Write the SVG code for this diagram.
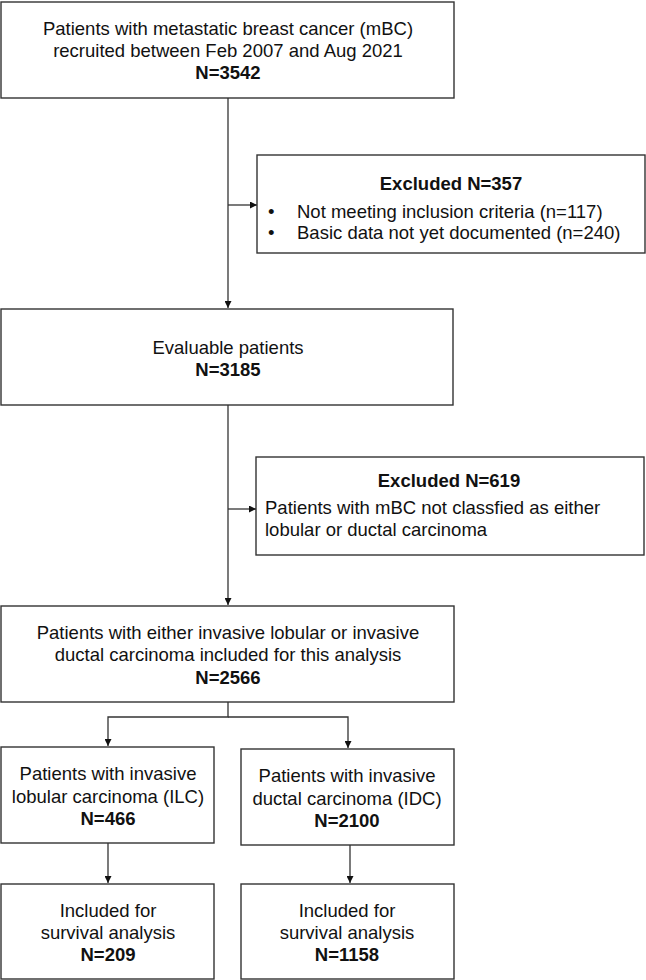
<svg xmlns="http://www.w3.org/2000/svg" width="646" height="980" viewBox="0 0 646 980">
<style>
.box{fill:#fff;stroke:#333;stroke-width:1.4}
.t{font-family:"Liberation Sans",Arial,sans-serif;font-size:18.5px;fill:#111}
.c{text-anchor:middle}
.b{font-weight:bold}
.ln{fill:none;stroke:#333;stroke-width:1.3}
</style>
<defs>
<marker id="ah" viewBox="0 0 10 10" refX="10" refY="5" markerWidth="7" markerHeight="7" markerUnits="userSpaceOnUse" orient="auto">
<path d="M0,0 L10,5 L0,10 Z" fill="#111"/>
</marker>
</defs>
<rect width="646" height="980" fill="#fff"/>
<g id="connectors">
<line class="ln" x1="228" y1="98" x2="228" y2="308" marker-end="url(#ah)"/>
<line class="ln" x1="228" y1="205" x2="257" y2="205" marker-end="url(#ah)"/>
<line class="ln" x1="228" y1="405" x2="228" y2="605" marker-end="url(#ah)"/>
<line class="ln" x1="228" y1="509" x2="256" y2="509" marker-end="url(#ah)"/>
<polyline class="ln" points="228,702 228,717 108,717 108,746" marker-end="url(#ah)"/>
<polyline class="ln" points="228,717 348,717 348,748" marker-end="url(#ah)"/>
<line class="ln" x1="108" y1="843" x2="108" y2="883" marker-end="url(#ah)"/>
<line class="ln" x1="350" y1="845" x2="350" y2="883" marker-end="url(#ah)"/>
</g>
<g id="n1">
<rect class="box" x="1" y="2" width="453" height="96"/>
<text class="t c" x="228" y="35">Patients with metastatic breast cancer (mBC)</text>
<text class="t c" x="228" y="57">recruited between Feb 2007 and Aug 2021</text>
<text class="t c b" x="228" y="79">N=3542</text>
</g>
<g id="ex1">
<rect class="box" x="257" y="155" width="388" height="98"/>
<text class="t c b" x="451" y="190">Excluded N=357</text>
<text class="t" x="268" y="218">•</text>
<text class="t" x="297" y="218">Not meeting inclusion criteria (n=117)</text>
<text class="t" x="268" y="239">•</text>
<text class="t" x="297" y="239">Basic data not yet documented (n=240)</text>
</g>
<g id="n2">
<rect class="box" x="1" y="309" width="452" height="96"/>
<text class="t c" x="228" y="354">Evaluable patients</text>
<text class="t c b" x="228" y="376">N=3185</text>
</g>
<g id="ex2">
<rect class="box" x="256" y="457" width="388" height="98"/>
<text class="t c b" x="449" y="487">Excluded N=619</text>
<text class="t" x="265" y="514">Patients with mBC not classfied as either</text>
<text class="t" x="265" y="536">lobular or ductal carcinoma</text>
</g>
<g id="n3">
<rect class="box" x="1" y="606" width="453" height="96"/>
<text class="t c" x="228" y="639">Patients with either invasive lobular or invasive</text>
<text class="t c" x="228" y="661">ductal carcinoma included for this analysis</text>
<text class="t c b" x="228" y="684">N=2566</text>
</g>
<g id="ilc">
<rect class="box" x="1" y="747" width="213" height="96"/>
<text class="t c" x="108" y="780">Patients with invasive</text>
<text class="t c" x="108" y="803">lobular carcinoma (ILC)</text>
<text class="t c b" x="108" y="825">N=466</text>
</g>
<g id="idc">
<rect class="box" x="241" y="749" width="213" height="96"/>
<text class="t c" x="347" y="782">Patients with invasive</text>
<text class="t c" x="347" y="805">ductal carcinoma (IDC)</text>
<text class="t c b" x="347" y="827">N=2100</text>
</g>
<g id="ilc_surv">
<rect class="box" x="1" y="884" width="213" height="95"/>
<text class="t c" x="108" y="917">Included for</text>
<text class="t c" x="108" y="939">survival analysis</text>
<text class="t c b" x="108" y="961">N=209</text>
</g>
<g id="idc_surv">
<rect class="box" x="241" y="884" width="213" height="95"/>
<text class="t c" x="347" y="917">Included for</text>
<text class="t c" x="347" y="939">survival analysis</text>
<text class="t c b" x="347" y="961">N=1158</text>
</g>
</svg>
